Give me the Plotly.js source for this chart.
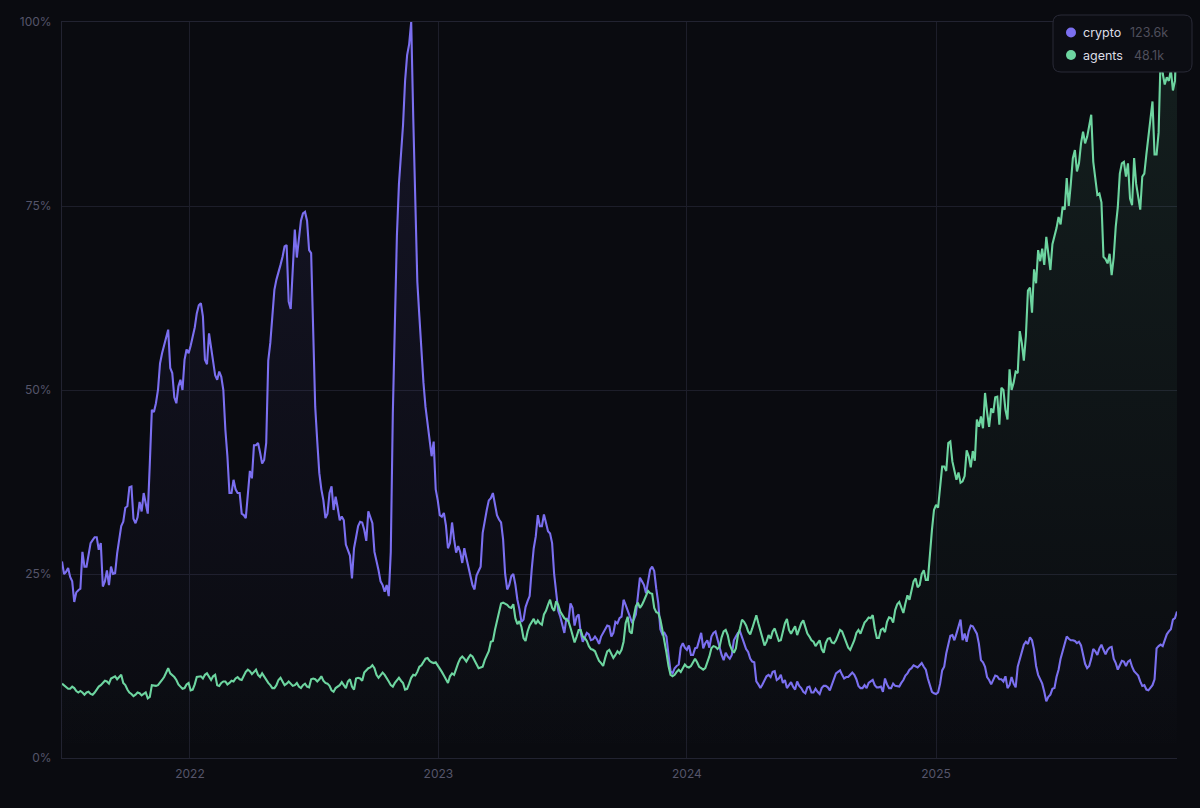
<!DOCTYPE html>
<html>
<head>
<meta charset="utf-8">
<script src="https://cdn.plot.ly/plotly-3.0.1.min.js"></script>
<style>html,body{margin:0;padding:0;background:#0a0b10}#c{width:1200px;height:808px}</style>
</head>
<body>
<div id="c"></div>
<script>
const startDate = '2021-06-27';
const endDate = '2025-12-21';
const stepDays = 3;
const seriesNames = ['crypto', 'agents'];
const seriesTotals = ['123.6k', '48.1k'];
const xTickVals = ['2022-01-01', '2023-01-01', '2024-01-01', '2025-01-01'];
const xTickText = ['2022', '2023', '2024', '2025'];
const yTickVals = [0, 25, 50, 75, 100];
const yTickText = ['0%', '25%', '50%', '75%', '100%'];

// readings every 6 days
const cryptoA = [
26.7,25.3,24.6,21.2,22.8,28,26,29.2,30,28.3,
23.3,25.5,26,25.1,30,32.1,34.2,36.9,31.9,34.8,
36,33.2,47.3,48.2,53.6,56.1,58.2,52.3,48.2,51.4,
54.1,55,57.3,60.4,61.8,54.1,57.7,54.1,51.4,51.8,
44.6,36,37.8,36,33.2,32.6,39,42.5,42.8,40,
42.8,56.4,63.6,65.9,68.1,69.7,61,71.8,70.2,74,
73,68.6,47.7,38.7,35,33.2,36.9,35.5,32.3,32.3,
28.3,24.4,30,32.1,31,33.5,31.9,26.9,24,22.6,
22,46.8,71,82,92,97,87,64.7,55,47.7,
44,43,35,32.8,31.6,29.2,29.7,28.8,26.5,27.2,
25.1,22.9,25.4,30.6,33.7,35.3,34.7,32.4,29.7,22.9,
24.7,23.6,20.2,18.8,21.3,25.6,30.1,31.5,33.1,30.8,
29.2,22,19.2,17,18.6,20.4,19.2,17,16.5,16.8,
16.1,16.1,16.5,17.4,17.9,17,18.3,19.2,20.8,19.5,
18.8,22,24,22.4,25.6,25.4,21,16.8,16.5,11.8,
12.2,12.7,15.6,14.7,14,14.9,16,14.9,16,16.5,
17.2,15.1,13.3,13.8,14,16.5,17.2,15.6,14.4,13.1,
10.4,9.5,10.6,11.3,11.7,10.6,11.3,10.6,9.9,9.7,
10.4,9.5,8.8,9.7,8.9,9,9.5,9.8,9.2,10.8,
11.7,11.3,11,11.3,11.3,9.8,9.5,9.5,10.4,9.9,
9.6,9,10,9.5,9.8,9.7,10.6,11.5,12.2,12.4,
12.6,12.4,10.8,9,8.7,10.1,12.4,15.4,16.7,16.9,
18.8,16.9,17.2,17.9,16.9,13.3,12.4,10.6,10.6,11.1,
10.7,11.1,9.9,10.1,12.4,14.2,15.8,16.4,14.7,11.3,
10.1,7.7,8.6,9.5,12,14.5,16.5,16,15.9,15.8,
14.2,12.2,13.5,14.5,14.9,14.7,14.7,15.1,12.9,12.6,
13.1,13.1,12.4,11.5,10.4,9.9,9.2,9.9,14.9,15.4,
16,17.2,18.8,19.9
];
// readings in between those
const cryptoB = [
25,25.8,24,22.5,23,26,27.5,29.6,30,29.2,
24,23.5,25,27.8,31.5,34,36.8,32.5,32.7,33.5,
34.5,40,47,50,55,57,53,49,50.5,50,
55.5,56,58.5,61.5,60,53.5,56,52,52.5,50,
41,36,36.5,36,33,36,38,42.5,41.5,40.5,
54,60,65,67,69.5,62,67,68,73,74.2,
69,56,43,36.5,32.6,36,33.7,34,32.8,29,
27.5,28.5,31.5,32,29.5,32.8,28,25.5,23.5,23.5,
28,60,78,86,95.5,100,75,60,51,45.5,
41,36.5,33,33.3,28.5,32,27.9,28,28.5,26,
23.5,24.8,26,32.5,35,36,33,32,25,23.5,
25,21.5,18.5,20.5,22,28.5,33,31.5,32,30.5,
25,20,18,19,21,18,19.5,15.8,17,16,
16.5,15.5,17,18,16.5,18.5,19,21.5,20,18.5,
19.5,24.5,23.5,24,26,23,17.5,17,14,11.5,
12.5,15,15,15.3,14,15,17,15.6,15,17,
16,14,14.3,13.5,16,17,16.5,14.8,13.5,13,
10,10,11.1,11,11.8,10.8,10.2,9.5,10.3,9.3,
9.8,9,9.6,8.9,9.4,8.7,9.8,9.6,9.9,11.5,
11.9,10.8,11,11.6,10.7,9.5,9.9,10.2,10.6,9.6,
9.7,10.8,9.5,10.1,9.7,10.2,11.2,12,12.6,12.3,
12.9,12,9.7,8.8,8.9,11.9,14.2,16.6,16,18,
16,15.8,18,17.4,15.5,13,11,10,11.2,10.7,
10.4,9.5,11,9.6,13.5,15.4,15.5,16,12.5,10.8,
9,8.3,9.4,11,13.5,15.2,16.2,16,15.6,15.3,
12.8,12.5,14.8,14,15.4,14.1,15,13.5,12,13.2,
12.5,13.3,11.8,11.2,9.8,9.3,9.6,10.7,15.2,15.2,
16.8,17.5,19
];
const agentsA = [
10.1,9.7,9.4,9.5,8.9,8.9,8.9,8.7,8.9,9.7,
10.2,10.4,10.8,11.1,11,10.2,9.3,8.7,8.6,8.8,
8.7,8.1,9.9,9.8,10.2,11,12.2,11.3,10.6,9.7,
9.5,10.2,9.3,11,11.1,11.3,11.1,11.1,9.9,10.2,
10.4,10.2,10.4,11,10.6,11.7,11.8,11.7,11.3,11.5,
10.6,9.9,9.5,10.6,10.4,10.1,10.1,9.9,9.7,9.9,
9.7,10.7,10.7,10.7,10.5,10.1,9.2,9.5,9.9,9.9,
10.4,9.7,10.8,10.8,11.6,12.2,12.6,11.3,11.3,11.3,
10.4,9.7,10.5,10.5,9.3,10.1,11.3,11.7,12.6,13.5,
13.2,12.9,12.6,11.7,10.6,11.1,11.3,12.9,13.8,13.1,
14,13.3,12.2,12.4,13.8,15.8,17.4,19.9,21.1,20.8,
20.4,19,18.6,16.3,17.2,18.4,18.2,18.3,19.5,20.8,
20.4,21.3,19.9,19,18.6,16.5,16.5,17.4,16.3,15.2,
14.7,13.8,12.9,13.6,14.7,13.6,14.5,14.7,18.3,17.2,
19.2,21.1,20.8,22.2,22.4,20.4,19.7,17.4,14.3,11.3,
11.3,12,12.2,12.4,12.5,13.5,12.4,12,12.9,14.9,
15.1,15.1,17.2,16.7,14.7,14.9,17.6,18.5,17.2,17.6,
19.4,17.2,15.3,16.7,17.2,16.7,16,18.3,17.4,17.4,
16.7,18.3,17.6,16.5,15.8,15.6,14.8,15.6,16.3,15.6,
16.7,17.2,15.8,14.7,16,17.4,17.8,18.7,19,17.6,
16.3,17.6,18.5,19,20.1,21.2,19.7,22.1,22.8,24.4,
23.5,25.5,24.2,31,34.4,37.4,39.6,42.8,40.3,37.8,
37.4,38.3,41,41.7,46,46.4,49.6,45,46.9,49.1,
50.3,47.3,52.8,51,52.3,56.4,57.3,63.9,66.4,69,
69.2,70.8,66.3,70.8,73.5,74.9,78.8,78,82.6,80.8,
85.1,84.4,87.4,79,76.7,68.1,67.2,65.6,72.2,79.4,
81,80.8,75.1,78,74.5,79.4,84.4,89.2,82,95.5,
91.5,92,90.7,100
];
const agentsB = [
9.9,9.4,9.7,9.1,9.1,8.6,9,8.6,9.3,9.9,
10.5,10.1,11,10.7,11.3,9.9,8.9,8.4,8.9,8.5,
8.9,8.3,9.8,9.9,10.6,11.7,11.5,11,10,9.4,
10,9.2,10,11.1,10.8,11.5,10.6,11.3,9.8,10.4,
10,10.5,10.8,10.7,11.2,12,11.4,12,11,11,
10.2,9.5,9.9,10.9,9.9,10.4,9.8,10.2,9.5,10.1,
9.6,10.8,10.4,11.1,10.2,9.8,9,9.7,10.3,9.5,
10.7,9.3,10.9,10.5,11.9,12.3,12.2,10.9,11.6,10.9,
9.9,10.2,10.9,10.2,9.4,10.9,11.2,12.4,13,13.6,
13,13,12.2,11.2,10.2,11.5,12.2,13.5,13.5,13.6,
13.8,12.6,12.3,13.3,14.5,15.9,18.5,21,21,20.5,
20.9,18.2,17.8,15.9,18,18.9,18.7,18.1,20,21.5,
20,20.8,19.4,18.8,17.7,15.7,17.4,16.5,15.9,14.8,
14.5,13.2,12.5,14.5,14.2,14,14.2,15.8,19.2,16.9,
20.6,20.4,21.4,22.7,22.3,19.8,18.8,15.5,12.5,11.1,
11.7,11.7,12.7,12.3,13,13,12.2,12.2,13.8,15.2,
14.8,16.4,17.4,15.4,14.3,16.7,18.8,18,16.8,18.7,
18.3,16,15.8,16.2,17.6,15.9,17.3,18.9,16.9,17.9,
17.5,18.7,16.9,16,15.2,16,14.3,16.2,15.7,16,
17.4,16.5,15,15.4,17,16.9,18.4,19.1,19.4,16.3,
17.4,17.1,19.1,18.4,20.9,20.3,21,21.5,24,23.2,
25,24.2,28,33.7,34,39.6,39,43,39.2,38.8,
37.6,41.8,39.5,40.4,45,44.8,47,47.5,49,45.3,
50,46,50,52.5,58,54,63.5,60.5,64.5,67.5,
67,68.5,69.8,72,72.5,74.5,75,81.5,79.7,83.5,
83.5,86,81,76.5,75.5,67.8,68.5,68,74.8,80.8,
79,76,81.5,76.2,79,82,86,82,85,93,
92.5,93.5,92
];

const weave = (a, b) => a.flatMap((v, i) => i < b.length ? [v, b[i]] : [v]);
const crypto = weave(cryptoA, cryptoB);
const agents = weave(agentsA, agentsB);
const dates = crypto.map((_, i) => {
  const d = new Date(startDate + 'T00:00:00Z');
  d.setUTCDate(d.getUTCDate() + i * stepDays);
  return d.toISOString().slice(0, 10);
});

const PURPLE = '#7b6ff0', GREEN = '#6dd5a0';
const FONT = 'Inter, "Noto Sans", sans-serif';
const TICK = '#55556a';
const W = 1200, H = 808;
const M = {l: 62, r: 23, t: 22, b: 50};
const pw = W - M.l - M.r, ph = H - M.t - M.b;
const X = v => (v - M.l) / pw, Y = v => (H - M.b - v) / ph;

function trace(name, y, color, rgb, alpha) {
  return {
    type: 'scatter', mode: 'lines', name, x: dates, y,
    line: {color, width: 2.1, shape: 'linear'},
    fill: 'tozeroy',
    fillcolor: 'rgba(' + rgb + ',0.05)',
    fillgradient: {type: 'vertical', colorscale: [[0, 'rgba(' + rgb + ',0.0)'], [1, 'rgba(' + rgb + ',' + alpha + ')']]},
    hoverinfo: 'skip'
  };
}
const pathBox = (l, t, r, b, q) =>
  `M${X(l + q)},${Y(t)} L${X(r - q)},${Y(t)} Q${X(r)},${Y(t)} ${X(r)},${Y(t + q)} L${X(r)},${Y(b - q)} Q${X(r)},${Y(b)} ${X(r - q)},${Y(b)} L${X(l + q)},${Y(b)} Q${X(l)},${Y(b)} ${X(l)},${Y(b - q)} L${X(l)},${Y(t + q)} Q${X(l)},${Y(t)} ${X(l + q)},${Y(t)} Z`;
const circle = (cx, cy, r, col) => ({
  type: 'circle', xref: 'paper', yref: 'paper', layer: 'above',
  x0: X(cx - r), x1: X(cx + r), y0: Y(cy + r), y1: Y(cy - r),
  fillcolor: col, line: {width: 0}
});
const label = (x, y, text, color, anchor) => ({
  xref: 'paper', yref: 'paper', x: X(x), y: Y(y), text, showarrow: false,
  xanchor: anchor, yanchor: 'middle', align: anchor, borderpad: 0,
  font: {family: FONT, size: 12.5, color}
});

const layout = {
  width: W, height: H, margin: M,
  paper_bgcolor: '#0a0b10', plot_bgcolor: '#0a0b10',
  showlegend: false,
  font: {family: FONT, size: 12, color: TICK},
  xaxis: {
    type: 'date', range: [startDate, endDate],
    tickmode: 'array', tickvals: xTickVals, ticktext: xTickText,
    showgrid: true, gridcolor: '#1d1e2a', gridwidth: 1,
    showline: true, linecolor: '#222331', linewidth: 1, mirror: true,
    ticks: 'outside', ticklen: 5, tickcolor: 'rgba(0,0,0,0)',
    zeroline: false, tickfont: {family: FONT, size: 12, color: TICK}
  },
  yaxis: {
    range: [0, 100], tickmode: 'array', tickvals: yTickVals, ticktext: yTickText,
    showgrid: true, gridcolor: '#1d1e2a', gridwidth: 1,
    showline: true, linecolor: '#222331', linewidth: 1,
    ticks: 'outside', ticklen: 7, tickcolor: 'rgba(0,0,0,0)',
    zeroline: false, tickfont: {family: FONT, size: 12, color: TICK}
  },
  shapes: [
    {type: 'path', xref: 'paper', yref: 'paper', layer: 'above',
     path: pathBox(1053, 15, 1192, 72, 8), fillcolor: '#0c0d13', line: {color: '#292a37', width: 1}},
    circle(1071, 32.5, 5, PURPLE),
    circle(1071, 55, 5, GREEN)
  ],
  annotations: [
    label(1082, 32.5, seriesNames[0], '#dcdde6', 'left'),
    label(1082, 55, seriesNames[1], '#dcdde6', 'left'),
    label(1169, 32.5, seriesTotals[0], '#4f4f5c', 'right'),
    label(1165, 55, seriesTotals[1], '#4f4f5c', 'right')
  ]
};

Plotly.newPlot('c', [
  trace(seriesNames[0], crypto, PURPLE, '123,111,240', 0.1),
  trace(seriesNames[1], agents, GREEN, '109,213,160', 0.1)
], layout, {displayModeBar: false, staticPlot: true});
</script>
</body>
</html>
